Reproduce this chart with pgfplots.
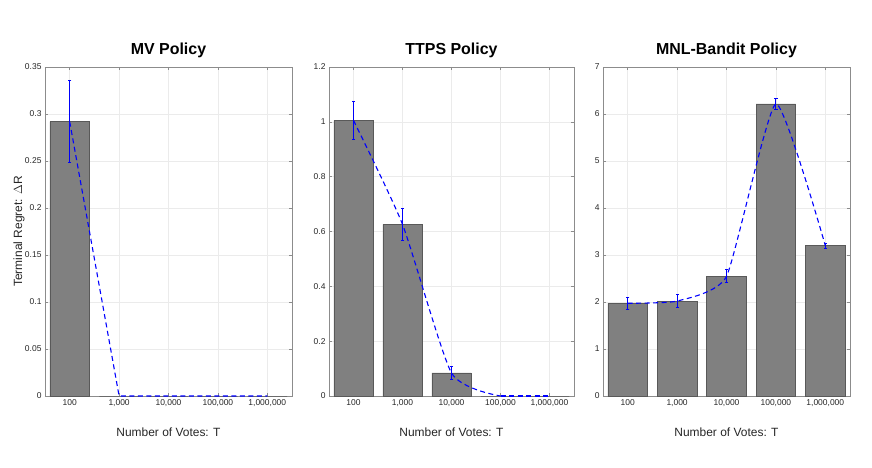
\documentclass[border=0pt]{standalone}
\usepackage{pgfplots}
\usepackage{pgfplotstable}
\pgfplotsset{compat=1.18}
\usepackage{fontspec}
\setmainfont{Liberation Sans}
\definecolor{tickc}{gray}{0.15}
\definecolor{boxc}{gray}{0.55}
\definecolor{gridc}{gray}{0.92}
\definecolor{barfill}{gray}{0.5}
\definecolor{baredge}{gray}{0.35}
\definecolor{errblue}{RGB}{0,0,250}

% error bar ends (mean -/+ error), nan separates bars
\pgfplotstableread{
x y
1 0.2483
1 0.3353
}\errMV
\pgfplotstableread{
x y
1 0.935
1 1.075
1 nan
2 0.567
2 0.685
2 nan
3 0.059
3 0.109
}\errTTPS
\pgfplotstableread{
x y
1 1.843
1 2.103
1 nan
2 1.885
2 2.155
2 nan
3 2.411
3 2.681
3 nan
4 6.106
4 6.326
4 nan
5 3.145
5 3.255
}\errMNL

\pgfplotsset{
  panel/.style={
    scale only axis,
    width=#1, height=329bp,
    anchor=south west,
    xmin=0.5, xmax=5.5,
    xtick={1,2,3,4,5},
    xticklabels={100,{1,000},{10,000},{100,000},{1,000,000}},
    ymin=0,
    grid=major,
    major grid style={gridc, line width=0.5bp},
    axis line style={boxc, line width=0.6bp},
    tick style={boxc, line width=0.6bp},
    tick align=inside, tick pos=both,
    major tick length=3bp,
    ticklabel style={font=\fontsize{8.5}{10}\selectfont, text=tickc},
    /pgf/number format/assume math mode=true,
    title style={at={(axis description cs:0.5,1)}, anchor=base, yshift=6.3bp,
      font=\fontsize{16}{18}\selectfont\bfseries, text=black},
    xlabel={Number of Votes: T},
    xlabel style={at={(axis description cs:0.5,0)}, anchor=base, yshift=-40.3bp,
      font=\fontsize{12}{14}\selectfont, text=tickc},
    ylabel style={at={(axis description cs:-0.0931,0.5)}, anchor=base,
      font=\fontsize{12}{14}\selectfont, text=tickc},
    clip=false,
    unbounded coords=jump,
  },
  barstyle/.style={ybar, bar width=0.8, fill=barfill, draw=baredge, line width=0.6bp},
  linestyle/.style={blue, line width=1.1bp, dash pattern=on 5bp off 3.5bp, no marks},
  errline/.style={color=errblue, draw=errblue, line width=1bp, no marks},
  errcap/.style={color=errblue, only marks, mark=-,
    mark options={color=errblue, line width=1bp, mark size=1.6bp}},
}
\begin{document}
\begin{tikzpicture}
\path[use as bounding box] (0,0) rectangle (872bp,468bp);

% Panel 1: MV Policy
\begin{axis}[panel=247bp, at={(45bp,72bp)},
  title={MV Policy},
  ylabel={Terminal Regret: $\Delta$R},
  ymax=0.35,
  ytick={0,0.05,0.1,0.15,0.2,0.25,0.3,0.35},
  yticklabels={0,0.05,0.1,0.15,0.2,0.25,0.3,0.35},
]
\addplot[barstyle] coordinates {(1,0.2918) (2,0) (3,0) (4,0) (5,0)};
\addplot[errcap] table {\errMV};
\addplot[errline] table {\errMV};
\addplot[linestyle] coordinates {(1,0.2918) (2,0) (3,0) (4,0) (5,0)};
\end{axis}

% Panel 2: TTPS Policy
\begin{axis}[panel=245bp, at={(329bp,72bp)},
  title={TTPS Policy},
  ymax=1.2,
  ytick={0,0.2,0.4,0.6,0.8,1,1.2},
  yticklabels={0,0.2,0.4,0.6,0.8,1,1.2},
]
\addplot[barstyle] coordinates {(1,1.005) (2,0.626) (3,0.084) (4,0) (5,0)};
\addplot[errcap] table {\errTTPS};
\addplot[errline] table {\errTTPS};
\addplot[linestyle, smooth, tension=0.35] coordinates {(1,1.005) (2,0.626) (3,0.084) (4,0)};
\addplot[linestyle] coordinates {(4,0) (5,0)};
\end{axis}

% Panel 3: MNL-Bandit Policy
\begin{axis}[panel=247bp, at={(603bp,72bp)},
  title={MNL-Bandit Policy},
  ymax=7,
  ytick={0,1,2,3,4,5,6,7},
  yticklabels={0,1,2,3,4,5,6,7},
]
\addplot[barstyle] coordinates {(1,1.973) (2,2.02) (3,2.546) (4,6.216) (5,3.20)};
\addplot[errcap] table {\errMNL};
\addplot[errline] table {\errMNL};
\addplot[linestyle, smooth, tension=0.3] coordinates {(1,1.973) (2,2.02) (3,2.546) (4,6.216) (5,3.20)};
\end{axis}
\end{tikzpicture}
\end{document}
